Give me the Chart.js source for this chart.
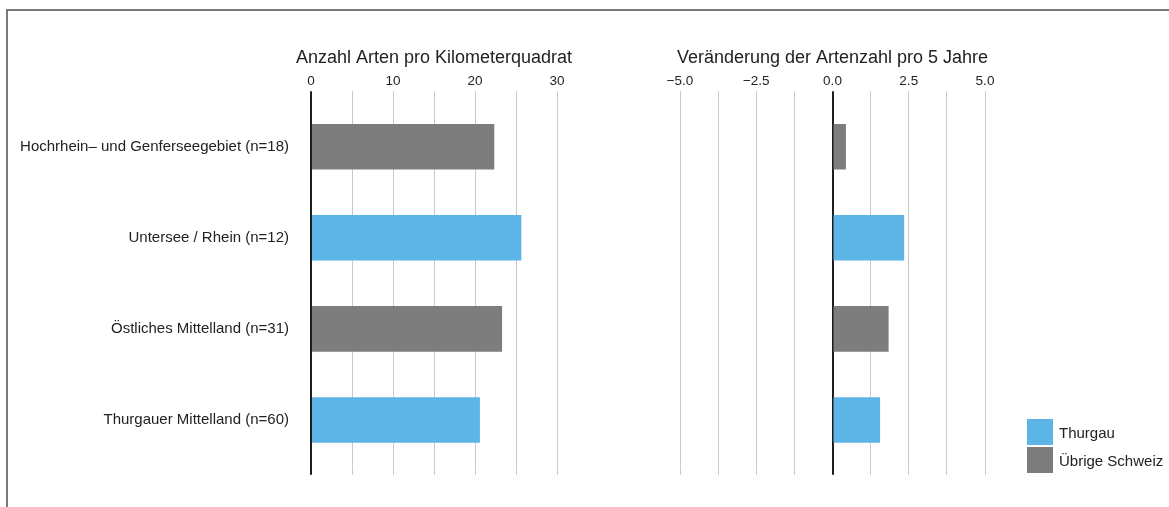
<!DOCTYPE html>
<html><head><meta charset="utf-8">
<script src="https://cdn.jsdelivr.net/npm/chart.js@4.4.1/dist/chart.umd.min.js"></script>
<style>
html,body{margin:0;padding:0;background:#fff;}
#wrap{position:relative;width:1169px;height:507px;overflow:hidden;font-family:"Liberation Sans",Arial,Helvetica,sans-serif;color:#222;}
#frame{position:absolute;left:6px;top:9px;right:-10px;bottom:-10px;border-top:2px solid #7a7a7a;border-left:2px solid #7a7a7a;}
canvas{position:absolute;top:0;}
#c1{left:0;} #c2{left:600px;}
#legend{position:absolute;left:1027px;top:419px;font-size:15px;}
.item{display:flex;align-items:center;height:26px;margin-bottom:2px;}
.box{width:26px;height:26px;margin-right:6px;}
</style></head>
<body><div id="wrap"><div id="frame"></div>
<canvas id="c1" width="600" height="507"></canvas>
<canvas id="c2" width="569" height="507"></canvas>
<div id="legend"></div></div>
<script>
const categories = ['Hochrhein\u2013 und Genferseegebiet (n=18)', 'Untersee / Rhein (n=12)', '\u00d6stliches Mittelland (n=31)', 'Thurgauer Mittelland (n=60)'];
const seriesNames = ['Thurgau', '\u00dcbrige Schweiz'];
const artenThurgau = [null, 25.65, null, 20.6];
const artenUebrige = [22.35, null, 23.3, null];
const veraenderungThurgau = [null, 2.35, null, 1.56];
const veraenderungUebrige = [0.44, null, 1.84, null];
const titleArten = 'Anzahl Arten pro Kilometerquadrat';
const titleVeraenderung = 'Ver\u00e4nderung der Artenzahl pro 5 Jahre';
const artenRange = [0, 30, 5, 10];          // min, max, grid step, label step
const veraenderungRange = [-5, 5, 1.25, 2.5];

const colors = ['#5cb5e6', '#7d7d7d'];
const FONT = '"Liberation Sans", Arial, Helvetica, sans-serif';
const gridColor = c => (c.tick && c.tick.value === 0) ? '#1e1e1e' : '#c8c8c8';
const gridWidth = c => (c.tick && c.tick.value === 0) ? 2 : 1;

// Axis title drawn centred over the x scale without width compression
const axisTitlePlugin = {
  id: 'axisTitle',
  afterDraw(chart, args, opts) {
    const s = chart.scales.x, ctx = chart.ctx;
    ctx.save();
    ctx.font = '18px ' + FONT;
    ctx.fillStyle = '#222';
    ctx.textAlign = 'center';
    ctx.textBaseline = 'middle';
    ctx.fillText(opts.text, (s.left + s.right) / 2, opts.y);
    ctx.restore();
  }
};

function datasets(a, b) {
  return [
    {label: seriesNames[0], data: a, backgroundColor: colors[0], grouped: false, barPercentage: 0.5, categoryPercentage: 1},
    {label: seriesNames[1], data: b, backgroundColor: colors[1], grouped: false, barPercentage: 0.5, categoryPercentage: 1}
  ];
}
function xScales(range, fmt) {
  const [min, max, step, lstep] = range;
  return {
    x: {position: 'top', min, max,
      ticks: {stepSize: step, autoSkip: false, maxRotation: 0, padding: 1.5, color: '#222', font: {family: FONT, size: 13.5},
        callback: v => (Math.abs(v / lstep - Math.round(v / lstep)) < 1e-6) ? fmt(v) : ''},
      grid: {color: gridColor, lineWidth: gridWidth, tickLength: 10, drawTicks: true},
      border: {display: false}
    },
    x2: {position: 'bottom', min, max, display: true,
      ticks: {stepSize: step, display: false, autoSkip: false},
      grid: {color: gridColor, lineWidth: gridWidth, tickLength: 9.2, drawTicks: true, drawOnChartArea: false},
      border: {display: false}
    }
  };
}
function opts(padding, scales, title) {
  return {indexAxis: 'y', responsive: false, animation: false,
    layout: {padding},
    plugins: {legend: {display: false}, tooltip: {enabled: false}, axisTitle: {text: title, y: 58.4}},
    scales};
}

const s1 = xScales(artenRange, v => String(v));
s1.y = {position: 'left', z: 1,
  ticks: {padding: 22, color: '#222', font: {family: FONT, size: 15}},
  grid: {display: false, drawTicks: false},
  border: {display: true, color: '#1e1e1e', width: 2},
  afterFit: s => { s.width = 311; }};
const chart1 = new Chart(document.getElementById('c1'), {
  type: 'bar',
  data: {labels: categories, datasets: datasets(artenThurgau, artenUebrige)},
  options: opts({left: 0, right: 43, top: 72, bottom: 32.3}, s1, titleArten),
  plugins: [axisTitlePlugin]
});

const s2 = xScales(veraenderungRange, v => v.toFixed(1).replace('-', '\u2212'));
s2.y = {position: {x: 0}, z: 1, display: true,
  ticks: {display: false},
  grid: {display: false, drawTicks: false},
  border: {display: true, color: '#1e1e1e', width: 2}};
const chart2 = new Chart(document.getElementById('c2'), {
  type: 'bar',
  data: {labels: categories, datasets: datasets(veraenderungThurgau, veraenderungUebrige)},
  options: opts({left: 80, right: 184, top: 72, bottom: 32.3}, s2, titleVeraenderung),
  plugins: [axisTitlePlugin]
});

const lg = document.getElementById('legend');
chart2.data.datasets.forEach(d => {
  const it = document.createElement('div'); it.className = 'item';
  const b = document.createElement('div'); b.className = 'box'; b.style.background = d.backgroundColor;
  const t = document.createElement('span'); t.textContent = d.label;
  it.appendChild(b); it.appendChild(t); lg.appendChild(it);
});
</script></body></html>
